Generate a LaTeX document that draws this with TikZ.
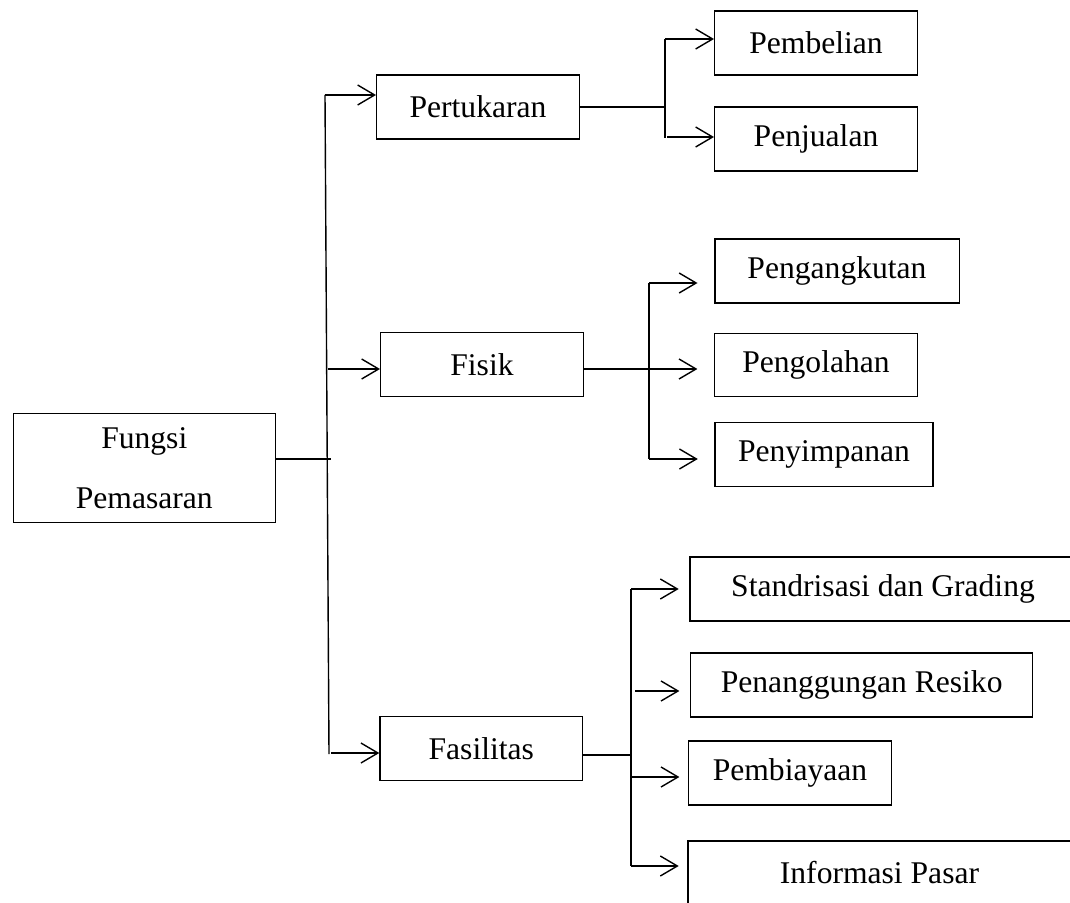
\documentclass[tikz,border=0pt]{standalone}
\usepackage{fontspec}
\setmainfont{Liberation Serif}
\usepackage{tikz}
\usetikzlibrary{arrows.meta, positioning, calc}
\tikzset{
  pasarbox/.style={
    draw, line width=0.7pt, align=center, inner sep=0pt,
    font=\fontsize{15.8}{30}\selectfont,
    minimum width=101.3pt, minimum height=32pt
  },
  pasarline/.style={
    line width=0.7pt
  },
  pasararrow/.style={
    -{Straight Barb[length=8.5pt,width=10pt]}, line width=0.7pt
  },
}

\begin{document}
\begin{tikzpicture}[x=0.5pt, y=-0.5pt]
  \useasboundingbox (0,0) rectangle (1070,903);

  % ── Root ──
  \node[pasarbox, minimum width=131pt, minimum height=54.7pt]
    (fungsi) at (144.3,468) {Fungsi\\Pemasaran};

  % ── Main functions ──
  \node[pasarbox] (pertukaran) at (478,107)   {Pertukaran};
  \node[pasarbox] (fisik)      at (482,364.7) {Fisik};
  \node[pasarbox] (fasilitas)  at (481.3,748.7) {Fasilitas};

  % ── Pertukaran ──
  \node[pasarbox] (pembelian) at (816,43)  {Pembelian};
  \node[pasarbox] (penjualan) at (816,139) {Penjualan};

  % ── Fisik ──
  \node[pasarbox, minimum width=122.2pt] (pengangkutan) at (837,271)   {Pengangkutan};
  \node[pasarbox, minimum height=31.7pt] (pengolahan)   at (816,365)   {Pengolahan};
  \node[pasarbox, minimum width=108.9pt] (penyimpanan)  at (824,454.7) {Penyimpanan};

  % ── Fasilitas ──
  \node[pasarbox, minimum width=193pt]   (standrisasi)  at (883,589)   {Standrisasi dan Grading};
  \node[pasarbox, minimum width=171pt]   (penanggungan) at (861.7,685) {Penanggungan Resiko};
  \node[pasarbox]                        (pembiayaan)   at (790,773)   {Pembiayaan};
  \node[pasarbox, minimum width=191.5pt] (informasi)    at (879.5,873) {Informasi Pasar};

  % ── Joints ──
  \coordinate (trunkTop)  at (325,95);
  \coordinate (trunkBot)  at (329,754);
  \coordinate (trunkJoin) at (331,459);
  \coordinate (trunkFis)  at (328,369);
  \coordinate (trunkFas)  at (331,753);
  \coordinate (tukarJoin) at (665,107);
  \coordinate (tukarTop)  at (665,39);
  \coordinate (tukarBot)  at (665,138);
  \coordinate (tukarJual) at (667,137);
  \coordinate (fisikJoin) at (649,369);
  \coordinate (fisikTop)  at (649,283);
  \coordinate (fisikBot)  at (649,459);
  \coordinate (fasJoin)   at (631,755);
  \coordinate (fasTop)    at (631,589);
  \coordinate (fasBot)    at (631,866);
  \coordinate (fasRisk)   at (635,691);
  \coordinate (fasBiaya)  at (631,777);

  % ── Trunk ──
  \draw[pasarline] (trunkTop) -- (trunkBot);
  \draw[pasarline] (fungsi.east |- trunkJoin) -- (trunkJoin);
  \draw[pasararrow] (trunkTop) -- (trunkTop -| pertukaran.west);
  \draw[pasararrow] (trunkFis) -- (trunkFis -| fisik.west);
  \draw[pasararrow] (trunkFas) -- (trunkFas -| fasilitas.west);

  % ── Pertukaran branch ──
  \draw[pasarline] (pertukaran.east |- tukarJoin) -- (tukarJoin);
  \draw[pasarline] (tukarTop) -- (tukarBot);
  \draw[pasararrow] (tukarTop) -- (tukarTop -| pembelian.west);
  \draw[pasararrow] (tukarJual) -- (tukarJual -| penjualan.west);

  % ── Fisik branch ──
  \draw[pasarline] (fisikTop) -- (fisikBot);
  \draw[pasararrow, shorten >=8.3pt] (fisik.east |- fisikJoin) -- (fisikJoin -| pengolahan.west);
  \draw[pasararrow, shorten >=8.3pt] (fisikTop) -- (fisikTop -| pengangkutan.west);
  \draw[pasararrow, shorten >=8.3pt] (fisikBot) -- (fisikBot -| penyimpanan.west);

  % ── Fasilitas branch ──
  \draw[pasarline] (fasilitas.east |- fasJoin) -- (fasJoin);
  \draw[pasarline] (fasTop) -- (fasBot);
  \draw[pasararrow, shorten >=5.3pt] (fasTop) -- (fasTop -| standrisasi.west);
  \draw[pasararrow, shorten >=5.3pt] (fasRisk) -- (fasRisk -| penanggungan.west);
  \draw[pasararrow, shorten >=4.3pt] (fasBiaya) -- (fasBiaya -| pembiayaan.west);
  \draw[pasararrow, shorten >=4.3pt] (fasBot) -- (fasBot -| informasi.west);
\end{tikzpicture}
\end{document}
